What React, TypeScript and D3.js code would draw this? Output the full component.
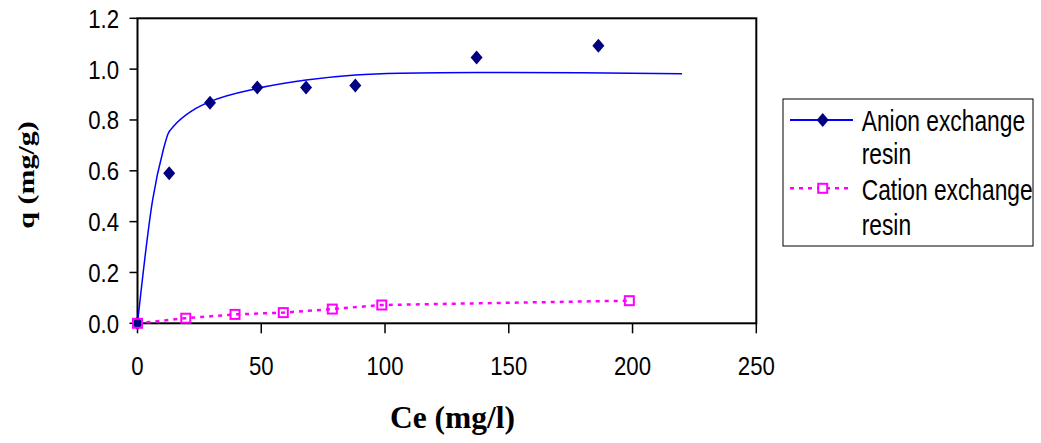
import React from "react";
import * as d3 from "d3";

// Data
const anionCe = [0, 12.8, 29.3, 48.4, 68.1, 88, 137, 186.2];
const anionQ = [0, 0.59, 0.868, 0.928, 0.928, 0.936, 1.046, 1.092];

const fitCe = [0, 6.1, 10.4, 12.4, 14.4, 22.5, 29.3, 48.4, 68.1, 88, 106, 137, 179, 220];
const fitQ = [0, 0.485, 0.682, 0.747, 0.773, 0.839, 0.872, 0.924, 0.957, 0.977, 0.984, 0.987, 0.986, 0.982];

const cationCe = [0, 19.5, 39.4, 58.9, 78.7, 98.7, 198.7];
const cationQ = [0, 0.02, 0.035, 0.042, 0.056, 0.072, 0.089];

const xTicks = [0, 50, 100, 150, 200, 250];
const yTicks = [0, 0.2, 0.4, 0.6, 0.8, 1.0, 1.2];

const legendLabels = [
  ["Anion exchange", "resin"],
  ["Cation exchange", "resin"],
];

const W = 1041;
const H = 443;
const sans = "'Liberation Sans', Arial, sans-serif";
const serif = "'Liberation Serif', 'Times New Roman', serif";

export default function App() {
  const x = d3.scaleLinear().domain([0, 250]).range([137.5, 756.3]);
  const y = d3.scaleLinear().domain([0, 1.2]).range([323.3, 18.3]);

  const fitLine = d3
    .line<number>()
    .x((_, i) => x(fitCe[i]))
    .y((d) => y(d))
    .curve(d3.curveMonotoneX)(fitQ) as string;

  const cationLine = d3
    .line<number>()
    .x((_, i) => x(cationCe[i]))
    .y((d) => y(d))(cationQ) as string;

  const diamond = (cx: number, cy: number, hw = 6, hh = 7) =>
    `M${cx},${cy - hh}L${cx + hw},${cy}L${cx},${cy + hh}L${cx - hw},${cy}Z`;

  const [x0, x1] = x.range();
  const [y0, y1] = y.range();

  const legX = 783;
  const legY = 99;

  return (
    <svg
      width={W}
      height={H}
      style={{ position: "absolute", left: 0, top: 0, background: "#fff" }}
    >
      <rect x={0} y={0} width={W} height={H} fill="#fff" />
      {/* plot frame */}
      <rect
        x={x0}
        y={y1}
        width={x1 - x0}
        height={y0 - y1}
        fill="none"
        stroke="#000"
        strokeWidth={2}
      />
      {/* x ticks */}
      {xTicks.map((t) => (
        <g key={"xt" + t}>
          <line x1={x(t)} x2={x(t)} y1={y0} y2={y0 + 10} stroke="#000" strokeWidth={1.5} />
          <text
            transform={`translate(${x(t)},375) scale(0.87,1)`}
            textAnchor="middle"
            fontFamily={sans}
            fontSize={25.5}
            fill="#000"
          >
            {t}
          </text>
        </g>
      ))}
      {/* y ticks */}
      {yTicks.map((t) => (
        <g key={"yt" + t}>
          <line x1={x0 - 8} x2={x0} y1={y(t)} y2={y(t)} stroke="#000" strokeWidth={1.5} />
          <text
            transform={`translate(119,${y(t) + 9.5}) scale(0.87,1)`}
            textAnchor="end"
            fontFamily={sans}
            fontSize={25.5}
            fill="#000"
          >
            {t.toFixed(1)}
          </text>
        </g>
      ))}
      {/* axis titles */}
      <text
        transform="translate(452.5,428)"
        textAnchor="middle"
        fontFamily={serif}
        fontWeight="bold"
        fontSize={31.5}
        fill="#000"
      >
        Ce (mg/l)
      </text>
      <text
        transform="translate(34.4,175) rotate(-90) scale(1.25,1)"
        textAnchor="middle"
        fontFamily={serif}
        fontWeight="bold"
        fontSize={24}
        fill="#000"
      >
        q (mg/g)
      </text>

      {/* series */}
      <path d={fitLine} fill="none" stroke="#0000ff" strokeWidth={1.5} />
      <path
        d={cationLine}
        fill="none"
        stroke="#ff00ff"
        strokeWidth={2.5}
        strokeDasharray="4,5"
      />
      {anionQ.map((q, i) => (
        <path key={"a" + i} d={diamond(x(anionCe[i]), y(q))} fill="#000080" />
      ))}
      {cationQ.map((q, i) => (
        <rect
          key={"c" + i}
          x={x(cationCe[i]) - 4.5}
          y={y(q) - 4.5}
          width={9}
          height={9}
          fill="none"
          stroke="#ff00ff"
          strokeWidth={2}
        />
      ))}

      {/* legend */}
      <rect
        x={legX}
        y={legY}
        width={250}
        height={147}
        fill="#fff"
        stroke="#000"
        strokeWidth={1}
      />
      <line x1={790} x2={853} y1={120} y2={120} stroke="#0000ff" strokeWidth={2} />
      <path d={diamond(822.7, 120)} fill="#000080" />
      <line
        x1={790}
        x2={853}
        y1={188.3}
        y2={188.3}
        stroke="#ff00ff"
        strokeWidth={2.5}
        strokeDasharray="4,5"
      />
      <rect
        x={822.7 - 4.5}
        y={188.3 - 4.5}
        width={9}
        height={9}
        fill="#fff"
        stroke="#ff00ff"
        strokeWidth={2}
      />
      {legendLabels.map((lines, i) =>
        lines.map((s, j) => (
          <text
            key={"l" + i + j}
            transform={`translate(861.7,${[130.7, 164, 200, 235][i * 2 + j]}) scale(0.76,1)`}
            fontFamily={sans}
            fontSize={30}
            fill="#000"
          >
            {s}
          </text>
        ))
      )}
    </svg>
  );
}
